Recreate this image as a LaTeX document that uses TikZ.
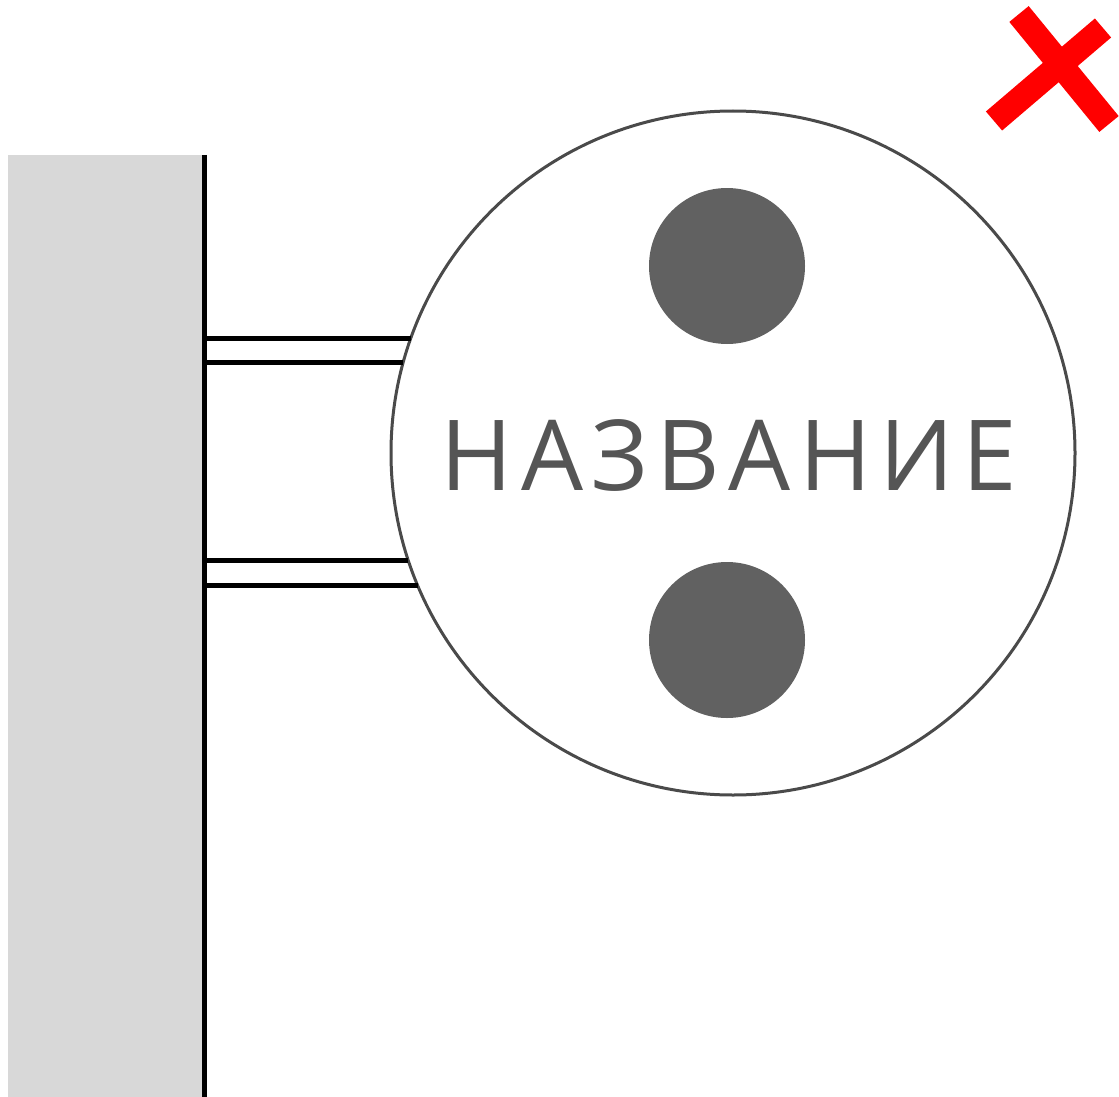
\documentclass[tikz,border=0pt]{standalone}
\usepackage{fontspec}
\newfontfamily\signfont[LetterSpace=8.5]{Open Sans}
\usetikzlibrary{calc}
\definecolor{wallgray}{HTML}{D8D8D8}
\definecolor{dotgray}{HTML}{616161}
\definecolor{textgray}{HTML}{555555}
\definecolor{rimgray}{HTML}{4A4A4A}

\begin{document}
\begin{tikzpicture}[x=0.5pt,y=-0.5pt]
    \useasboundingbox (0,0) rectangle (1119,1097);
    % wall
    \fill[wallgray] (8,155) rectangle (203,1097);
    \draw[line width=2.5pt] (204,155) coordinate (W1) -- (204,1097) coordinate (W2);

    % sign disc
    \coordinate (O) at (733,453);
    \pgfmathsetmacro{\R}{342}
    \draw[line width=1.5pt, rimgray] (O) circle[radius=\R];

    % arms from the wall to the rim
    \foreach \y in {338,362,560,585} {
        \pgfmathsetmacro{\xe}{733-\R*sqrt(1-((\y-453)/\R)^2)}
        \draw[line width=2.5pt] (204,\y) -- (\xe,\y);
    }

    % lamps
    \coordinate (L1) at (727,266);
    \coordinate (L2) at (727,640);
    \fill[dotgray] (L1) circle[radius=78];
    \fill[dotgray] (L2) circle[radius=78];

    \node[text=textgray, inner sep=0pt, font=\signfont\fontsize{49}{49}\selectfont] (name) at (729,455) {НАЗВАНИЕ};

    % red cross
    \draw[red, line width=12.5pt] (1019,14) -- (1109,124);
    \draw[red, line width=12.5pt] (1103,28) -- (994,121);
\end{tikzpicture}
\end{document}
